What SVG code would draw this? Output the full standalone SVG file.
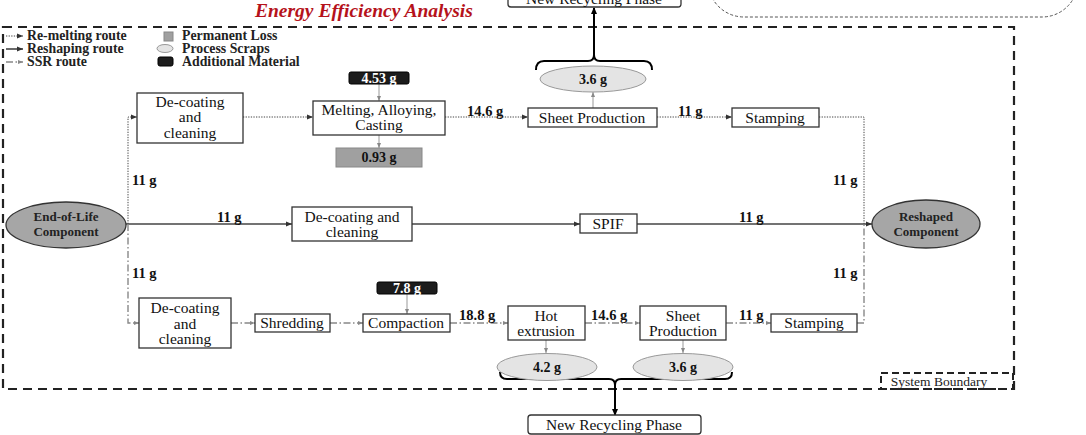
<svg xmlns="http://www.w3.org/2000/svg" width="1086" height="435" viewBox="0 0 1086 435">
<defs>
<marker id="ah" markerWidth="6" markerHeight="6" refX="6" refY="3" orient="auto" markerUnits="userSpaceOnUse"><path d="M0,0.5 L6,3 L0,5.5 z" fill="#333"/></marker>
<marker id="ahg" markerWidth="5" markerHeight="5" refX="5" refY="2.5" orient="auto" markerUnits="userSpaceOnUse"><path d="M0,0.5 L5,2.5 L0,4.5 z" fill="#888"/></marker>
<marker id="ahb" markerWidth="7" markerHeight="7" refX="6" refY="3.5" orient="auto" markerUnits="userSpaceOnUse"><path d="M0,0.5 L7,3.5 L0,6.5 z" fill="#000"/></marker>
<style>
.box{fill:#fff;stroke:#333;stroke-width:1.3}
.t{font-family:"Liberation Serif","Times New Roman",serif;font-size:15.5px;fill:#111;text-anchor:middle}
.w{font-family:"Liberation Serif","Times New Roman",serif;font-size:14.5px;font-weight:bold;fill:#111}
.lg{font-family:"Liberation Serif","Times New Roman",serif;font-size:13.8px;font-weight:bold;fill:#222}
.eb{font-family:"Liberation Serif","Times New Roman",serif;font-size:13px;font-weight:bold;fill:#222;text-anchor:middle}
.sc{font-family:"Liberation Serif","Times New Roman",serif;font-size:14px;font-weight:bold;fill:#111;text-anchor:middle}
.scrap{fill:#e4e4e4;stroke:#999;stroke-width:1}
.loss{fill:#a0a0a0;stroke:#888;stroke-width:1}
.add{fill:#1c1c1c;stroke:#000;stroke-width:1}
.eol{fill:#a6a6a6;stroke:#333;stroke-width:1.3}
.rm{fill:none;stroke:#444;stroke-width:1;stroke-dasharray:1.3 1.3}
.rs{fill:none;stroke:#444;stroke-width:1.6}
.ssr{fill:none;stroke:#888;stroke-width:1.4;stroke-dasharray:7 2.5 1.5 2.5}
.mf{fill:none;stroke:#999;stroke-width:1}
.br{fill:none;stroke:#000;stroke-width:2}
.bnd{fill:none;stroke:#222;stroke-width:2.2;stroke-dasharray:9 6}
</style>
</defs>
<rect width="1086" height="435" fill="#fff"/>

<!-- top-right dashed shape (cut) -->
<rect x="708" y="-80" width="370" height="97" rx="36" fill="none" stroke="#555" stroke-width="1" stroke-dasharray="3 2"/>

<!-- title -->
<text x="255" y="17" font-family="'Liberation Serif','Times New Roman',serif" font-size="19.5" font-weight="bold" font-style="italic" fill="#b5121b">Energy Efficiency Analysis</text>

<!-- system boundary -->
<g id="system-boundary">
<path class="bnd" d="M3,27 H1014 V389 H3 Z"/>
<rect x="881" y="373" width="132" height="16" fill="none" stroke="#222" stroke-width="2" stroke-dasharray="7 4"/>
<text x="939" y="385.5" font-family="'Liberation Serif','Times New Roman',serif" font-size="13.5" fill="#222" text-anchor="middle">System Boundary</text>
</g>

<!-- legend -->
<g id="legend">
<line x1="6" y1="36" x2="23" y2="36" class="rm" marker-end="url(#ah)"/>
<line x1="6" y1="49" x2="23" y2="49" class="rs" marker-end="url(#ah)"/>
<line x1="6" y1="62" x2="23" y2="62" class="ssr" stroke-dasharray="5 1.5" marker-end="url(#ahg)"/>
<text x="27" y="40" class="lg">Re-melting route</text>
<text x="27" y="53" class="lg">Reshaping route</text>
<text x="27" y="66" class="lg">SSR route</text>
<rect x="164" y="32" width="9" height="9" class="loss"/>
<ellipse cx="165" cy="48.5" rx="8" ry="4" class="scrap"/>
<rect x="158" y="57" width="15" height="9" rx="2" class="add"/>
<text x="182" y="40" class="lg">Permanent Loss</text>
<text x="182" y="53" class="lg">Process Scraps</text>
<text x="182" y="66" class="lg">Additional Material</text>
</g>

<!-- connectors -->
<g id="connectors">
<!-- re-melting -->
<path class="rm" d="M128,224 V117 H137" marker-end="url(#ah)"/>
<line class="rm" x1="243" y1="117" x2="313" y2="117" marker-end="url(#ah)"/>
<line class="rm" x1="445" y1="117" x2="528" y2="117" marker-end="url(#ah)"/>
<line class="rm" x1="657" y1="117" x2="732" y2="117" marker-end="url(#ah)"/>
<path class="rm" d="M819,117 H864 V224"/>
<!-- reshaping -->
<line class="rs" x1="125" y1="224" x2="292" y2="224" marker-end="url(#ah)"/>
<line class="rs" x1="412" y1="224" x2="580" y2="224" marker-end="url(#ah)"/>
<line class="rs" x1="637" y1="224" x2="872" y2="224" marker-end="url(#ah)"/>
<!-- SSR -->
<path class="ssr" d="M128,224 V323 H139" marker-end="url(#ahg)"/>
<line class="ssr" x1="231" y1="323" x2="255" y2="323" marker-end="url(#ahg)"/>
<line class="ssr" x1="330" y1="323" x2="363" y2="323" marker-end="url(#ahg)"/>
<line class="ssr" x1="450" y1="323" x2="508" y2="323" marker-end="url(#ahg)"/>
<line class="ssr" x1="585" y1="323" x2="640" y2="323" marker-end="url(#ahg)"/>
<line class="ssr" x1="726" y1="323" x2="771" y2="323" marker-end="url(#ahg)"/>
<path class="ssr" d="M857,323 H864 V224"/>
<!-- material flows -->
<line class="mf" x1="379" y1="84" x2="379" y2="101" marker-end="url(#ahg)"/>
<line class="mf" x1="379" y1="135" x2="379" y2="148" marker-end="url(#ahg)"/>
<line class="mf" x1="593" y1="108" x2="593" y2="92" marker-end="url(#ahg)"/>
<line class="mf" x1="407" y1="294" x2="407" y2="314" marker-end="url(#ahg)"/>
<line class="mf" x1="546" y1="340" x2="546" y2="353" marker-end="url(#ahg)"/>
<line class="mf" x1="683" y1="340" x2="683" y2="353" marker-end="url(#ahg)"/>
<!-- braces -->
<path class="br" d="M536,70 Q536,61 544,61 L588,61 Q594,61 594,55 Q594,61 600,61 L644,61 Q652,61 652,70"/>
<line class="br" x1="594" y1="56" x2="594" y2="8" marker-end="url(#ahb)"/>
<path class="br" d="M500,372 Q500,379 507,379 L609,379 Q615,379 615,385 Q615,379 621,379 L725,379 Q732,379 732,372"/>
<line class="br" x1="615" y1="384" x2="615" y2="415" marker-end="url(#ahb)"/>
<!-- weight labels -->
<text class="w" x="467" y="116">14.6 g</text>
<text class="w" x="678" y="116">11 g</text>
<text class="w" x="132" y="185">11 g</text>
<text class="w" x="132" y="278">11 g</text>
<text class="w" x="217" y="222">11 g</text>
<text class="w" x="739" y="222">11 g</text>
<text class="w" x="833" y="185">11 g</text>
<text class="w" x="833" y="278">11 g</text>
<text class="w" x="459" y="320">18.8 g</text>
<text class="w" x="591" y="320">14.6 g</text>
<text class="w" x="739" y="320">11 g</text>
</g>

<!-- nodes -->
<g id="new-recycling-top"><rect x="508" y="-12" width="173" height="19" rx="3" class="box"/><text class="t" x="594" y="4">New Recycling Phase</text></g>
<g id="eol"><ellipse cx="66" cy="225" rx="60" ry="23" class="eol"/><text class="eb" x="66" y="221">End-of-Life</text><text class="eb" x="66" y="236">Component</text></g>
<g id="reshaped"><ellipse cx="926" cy="224" rx="54" ry="24" class="eol"/><text class="eb" x="926" y="221">Reshaped</text><text class="eb" x="926" y="236">Component</text></g>

<g id="decoat-top"><rect x="137" y="93" width="106" height="50" class="box"/><text class="t" x="190" y="107">De-coating</text><text class="t" x="190" y="122">and</text><text class="t" x="190" y="138">cleaning</text></g>
<g id="melting"><rect x="313" y="101" width="132" height="34" class="box"/><text class="t" x="379" y="115">Melting, Alloying,</text><text class="t" x="379" y="130">Casting</text></g>
<g id="add-453"><rect x="349" y="72" width="60" height="12" rx="2" class="add"/><text class="sc" x="379" y="82.5" style="fill:#fff">4.53 g</text></g>
<g id="loss-093"><rect x="336" y="148" width="86" height="19" class="loss"/><text class="sc" x="379" y="162">0.93 g</text></g>
<g id="sheet-top"><rect x="528" y="108" width="129" height="19" class="box"/><text class="t" x="592" y="123">Sheet Production</text></g>
<g id="scrap-36-top"><ellipse cx="593" cy="79" rx="53" ry="13" class="scrap"/><text class="sc" x="593" y="84">3.6 g</text></g>
<g id="stamping-top"><rect x="732" y="108" width="87" height="19" class="box"/><text class="t" x="775" y="123">Stamping</text></g>

<g id="decoat-mid"><rect x="292" y="207" width="120" height="34" class="box"/><text class="t" x="352" y="222">De-coating and</text><text class="t" x="352" y="237">cleaning</text></g>
<g id="spif"><rect x="580" y="214" width="57" height="19" class="box"/><text class="t" x="608" y="229">SPIF</text></g>

<g id="decoat-bot"><rect x="139" y="298" width="92" height="50" class="box"/><text class="t" x="185" y="313">De-coating</text><text class="t" x="185" y="329">and</text><text class="t" x="185" y="344">cleaning</text></g>
<g id="shredding"><rect x="255" y="314" width="75" height="18" class="box"/><text class="t" x="292" y="328">Shredding</text></g>
<g id="compaction"><rect x="363" y="314" width="87" height="18" class="box"/><text class="t" x="406" y="328">Compaction</text></g>
<g id="add-78"><rect x="377" y="282" width="60" height="12" rx="2" class="add"/><text class="sc" x="407" y="292.5" style="fill:#fff">7.8 g</text></g>
<g id="hot-extrusion"><rect x="508" y="306" width="77" height="34" class="box"/><text class="t" x="546" y="321">Hot</text><text class="t" x="546" y="336">extrusion</text></g>
<g id="scrap-42"><ellipse cx="547" cy="367" rx="50" ry="13.5" class="scrap"/><text class="sc" x="547" y="372">4.2 g</text></g>
<g id="sheet-bot"><rect x="640" y="306" width="86" height="34" class="box"/><text class="t" x="683" y="321">Sheet</text><text class="t" x="683" y="336">Production</text></g>
<g id="scrap-36-bot"><ellipse cx="683" cy="367" rx="50" ry="13.5" class="scrap"/><text class="sc" x="683" y="372">3.6 g</text></g>
<g id="stamping-bot"><rect x="771" y="314" width="86" height="18" class="box"/><text class="t" x="814" y="328">Stamping</text></g>
<g id="new-recycling-bot"><rect x="528" y="415" width="173" height="19" rx="3" class="box"/><text class="t" x="614" y="430">New Recycling Phase</text></g>
</svg>
